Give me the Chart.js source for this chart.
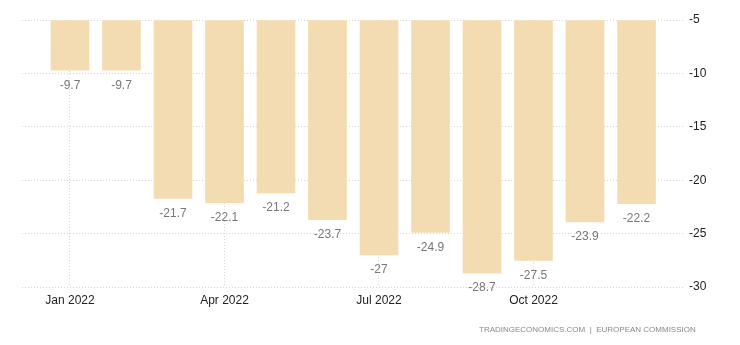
<!DOCTYPE html>
<html>
<head>
<meta charset="utf-8">
<script src="https://cdn.jsdelivr.net/npm/chart.js@4.4.0/dist/chart.umd.min.js"></script>
<style>
  html, body { margin: 0; padding: 0; background: #fff; }
  #wrap { position: relative; width: 740px; height: 345px; }
  #src {
    position: absolute; left: 479px; top: 325px; white-space: nowrap;
    font: 8px "Liberation Sans", Arial, sans-serif; color: #888;
  }
</style>
</head>
<body>
<div id="wrap">
  <canvas id="chart" width="740" height="345"></canvas>
  <div id="src">TRADINGECONOMICS.COM &nbsp;|&nbsp; EUROPEAN COMMISSION</div>
</div>
<script>
// Monthly values, 2022
const months = ['Jan 2022', 'Feb 2022', 'Mar 2022', 'Apr 2022', 'May 2022', 'Jun 2022',
                'Jul 2022', 'Aug 2022', 'Sep 2022', 'Oct 2022', 'Nov 2022', 'Dec 2022'];
const values = [-9.7, -9.7, -21.7, -22.1, -21.2, -23.7, -27, -24.9, -28.7, -27.5, -23.9, -22.2];
const xTicks = [0, 3, 6, 9];
const yTicks = [-5, -10, -15, -20, -25, -30];

// value labels under each bar
const valueLabels = {
    id: 'valueLabels',
    afterDatasetsDraw(chart) {
        const ctx = chart.ctx;
        const meta = chart.getDatasetMeta(0);
        ctx.save();
        ctx.font = '12px "Liberation Sans", Arial, sans-serif';
        ctx.fillStyle = '#777';
        ctx.textAlign = 'center';
        ctx.textBaseline = 'middle';
        meta.data.forEach((bar, i) => {
            ctx.fillText(String(values[i]), bar.x, bar.y + 15);
        });
        ctx.restore();
    }
};

const gridStyle = { color: '#d6d6d6', drawTicks: false };
const borderStyle = { display: false, dash: [1, 2] };

new Chart(document.getElementById('chart'), {
    type: 'bar',
    data: {
        datasets: [{
            data: values.map((v, i) => ({ x: i, y: v })),
            base: -5,
            backgroundColor: '#f3dcb1',
            barThickness: 38
        }]
    },
    options: {
        responsive: false,
        animation: false,
        layout: { padding: { left: 22, top: 20, right: 0, bottom: 0 } },
        plugins: { legend: { display: false }, tooltip: { enabled: false } },
        scales: {
            x: {
                type: 'linear',
                offset: false,
                bounds: 'data',
                min: -0.932,
                max: 11.942,
                afterBuildTicks: s => { s.ticks = xTicks.map(v => ({ value: v })); },
                afterFit: s => { s.height = 58; },
                border: borderStyle,
                grid: Object.assign({ offset: false }, gridStyle),
                ticks: {
                    padding: 6,
                    color: '#222',
                    font: { family: '"Liberation Sans", Arial, sans-serif', size: 12 },
                    callback: v => months[v]
                }
            },
            y: {
                position: 'right',
                min: -30,
                max: -5,
                afterBuildTicks: s => { s.ticks = yTicks.map(v => ({ value: v })); },
                afterFit: s => { s.width = 55; },
                border: borderStyle,
                grid: gridStyle,
                ticks: {
                    padding: 4,
                    color: '#222',
                    font: { family: '"Liberation Sans", Arial, sans-serif', size: 12 }
                }
            }
        }
    },
    plugins: [valueLabels]
});
</script>
</body>
</html>
